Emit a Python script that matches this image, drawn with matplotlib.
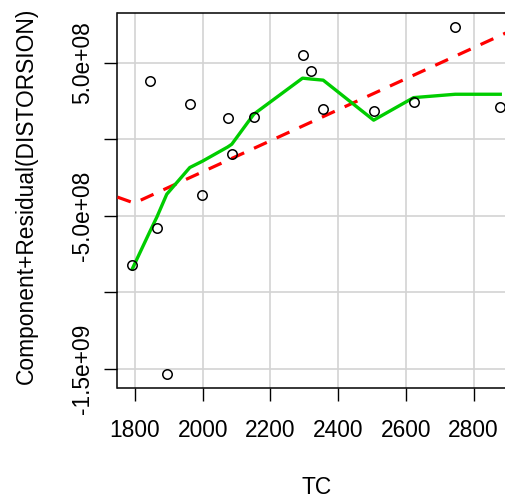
import matplotlib
matplotlib.use("Agg")
import matplotlib.pyplot as plt
from matplotlib.ticker import FixedLocator, FixedFormatter

plt.rcParams['font.family'] = ['Liberation Sans', 'DejaVu Sans']

# Observed points (TC vs component+residual)
tc = [1844, 1962, 2074, 2151, 2086, 1999, 2295, 2321, 2356, 2505, 2623, 2746, 2879, 1865, 1792, 1894]
cr = [3.80e8, 2.32e8, 1.41e8, 1.43e8, -0.96e8, -3.65e8, 5.50e8, 4.47e8, 1.99e8, 1.86e8,
      2.43e8, 7.32e8, 2.11e8, -5.80e8, -8.19e8, -1.532e9]

# Red dashed component line
fit_x = [1748.5, 1798, 2922.5]
fit_y = [-3.78e8, -4.17e8, 7.20e8]

# Green smoother
smooth_x = [1792, 1844, 1865, 1894, 1962, 1999, 2074, 2086, 2151, 2295, 2321, 2356, 2505, 2623, 2746, 2879]
smooth_y = [-8.47e8, -6.03e8, -5.07e8, -3.59e8, -1.85e8, -1.44e8, -0.51e8, -0.33e8, 1.63e8,
            3.98e8, 3.92e8, 3.85e8, 1.24e8, 2.71e8, 2.93e8, 2.93e8]

xticks = [1800, 2000, 2200, 2400, 2600, 2800]
xtick_labels = ["1800", "2000", "2200", "2400", "2600", "2800"]
yticks = [5e8, 0, -5e8, -1e9, -1.5e9]
ytick_labels = ["5.0e+08", "", "-5.0e+08", "", "-1.5e+09"]

W, H = 506, 504
fig = plt.figure(figsize=(W / 100, H / 100), dpi=100)
L, R, T, B = 117.5, 515, 13, 388
ax = fig.add_axes([L / W, (H - B) / H, (R - L) / W, (B - T) / H])

ax.set_xlim(1748.5, 2922.5)
ax.set_ylim(-1.623e9, 8.23e8)

ax.xaxis.set_major_locator(FixedLocator(xticks))
ax.xaxis.set_major_formatter(FixedFormatter(xtick_labels))
ax.yaxis.set_major_locator(FixedLocator(yticks))
ax.yaxis.set_major_formatter(FixedFormatter(ytick_labels))

ax.grid(True, color='#d3d3d3', linewidth=1.2, zorder=0)
ax.set_axisbelow(True)

ax.plot(fit_x, fit_y, color='#ff0000', linewidth=2.3, dashes=(4.4, 3.4),
        dash_capstyle='butt', zorder=3)
ax.plot(smooth_x, smooth_y, color='#00cd00', linewidth=2.4, zorder=4)
ax.plot(tc, cr, linestyle='none', marker='o', markersize=6.8, markerfacecolor='none',
        markeredgecolor='black', markeredgewidth=1.1, zorder=5)

for s in ax.spines.values():
    s.set_linewidth(1.1)
    s.set_color('black')

FS = 16.4
ax.tick_params(axis='both', length=9.7, width=1.0, labelsize=FS, color='black')
ax.tick_params(axis='x', pad=12.5)
ax.tick_params(axis='y', pad=7.5)
for lab in ax.get_yticklabels():
    lab.set_rotation(90)
    lab.set_va('center')

fig.text(26 / W, 1 - 195.5 / H, "Component+Residual(DISTORSION)", rotation=90,
         ha='center', va='center', fontsize=FS)
fig.text(316.5 / W, 1 - 487 / H, "TC", ha='center', va='center', fontsize=FS)

fig.savefig("out.png", dpi=100)
